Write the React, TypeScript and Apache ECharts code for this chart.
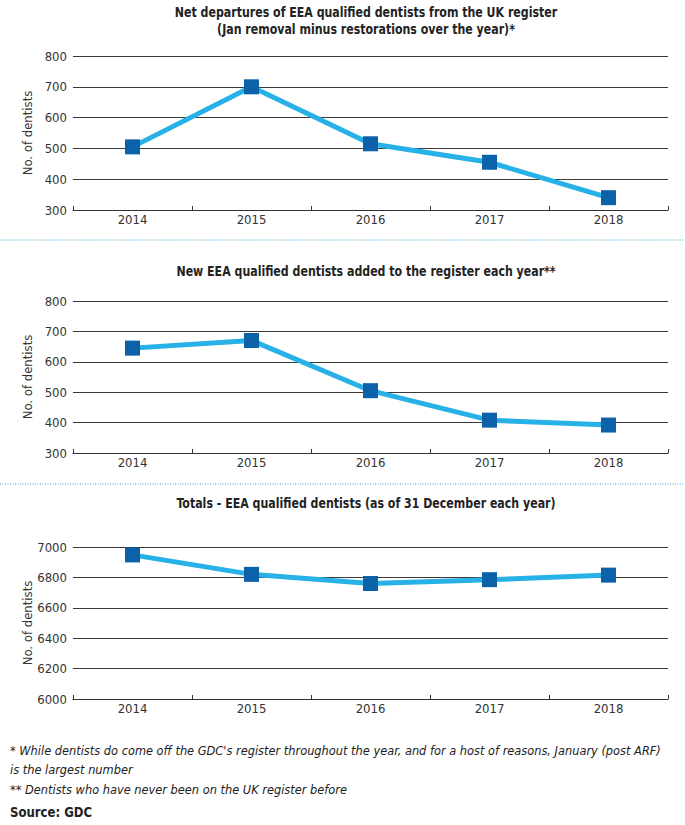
import React, { useEffect, useRef } from "react";
import * as echarts from "echarts";

const years = ["2014", "2015", "2016", "2017", "2018"];
const netDepartures = [505, 700, 515, 455, 340];
const newAdded = [645, 670, 505, 408, 392];
const totals = [6948, 6820, 6760, 6785, 6815];

const titles = [
  "Net departures of EEA qualified dentists from the UK register",
  "(Jan removal minus restorations over the year)*",
  "New EEA qualified dentists added to the register each year**",
  "Totals - EEA qualified dentists (as of 31 December each year)",
];
const footnotes = [
  "* While dentists do come off the GDC's register throughout the year, and for a host of reasons, January (post ARF)",
  "is the largest number",
  "** Dentists who have never been on the UK register before",
];
const sourceText = "Source: GDC";
const yName = "No. of dentists";

const FONT = "'DejaVu Sans Condensed', 'Liberation Sans Narrow', sans-serif";

export default function App() {
  const ref = useRef<HTMLDivElement>(null);
  useEffect(() => {
    document.body.style.margin = "0";
    if (!ref.current) return;
    const chart = echarts.init(ref.current, undefined, { renderer: "svg" });
    const grids = [
      { left: 73, right: 17, top: 56, height: 154 },
      { left: 73, right: 17, top: 301, height: 152 },
      { left: 73, right: 17, top: 547, height: 152 },
    ];
    const yRanges = [
      { min: 300, max: 800, interval: 100 },
      { min: 300, max: 800, interval: 100 },
      { min: 6000, max: 7000, interval: 200 },
    ];
    const dataSets = [netDepartures, newAdded, totals];
    const titleText = (text: string, y: number) => ({
      type: "text",
      x: 366,
      y,
      scaleX: 0.875,
      style: {
        text,
        fontFamily: FONT,
        fontSize: 14,
        fontWeight: "bold",
        fill: "#222",
        textAlign: "center",
        textVerticalAlign: "middle",
      },
    });
    const footText = (text: string, y: number, bold = false) => ({
      type: "text",
      x: 10,
      y,
      scaleX: bold ? 0.93 : 0.975,
      style: {
        text,
        fontFamily: FONT,
        fontSize: bold ? 14 : 13,
        fontStyle: bold ? "normal" : "italic",
        fontWeight: bold ? "bold" : "normal",
        fill: "#222",
        textAlign: "left",
        textVerticalAlign: "middle",
      },
    });
    const sep = (y: number) => ({
      type: "line",
      shape: { x1: 0, y1: y, x2: 685, y2: y },
      style: { stroke: "#3ea6d6", lineWidth: 1, lineDash: [1, 1.5] },
    });
    chart.setOption({
      animation: false,
      backgroundColor: "#fff",
      textStyle: { fontFamily: FONT },
      grid: grids,
      xAxis: grids.map((_, i) => ({
        type: "category",
        gridIndex: i,
        data: years,
        boundaryGap: true,
        axisLine: { lineStyle: { color: "#333", width: 1 } },
        axisTick: { show: true, inside: true, length: 4, lineStyle: { color: "#333" } },
        axisLabel: { color: "#333", fontSize: 13, margin: 3, fontFamily: FONT },
      })),
      yAxis: grids.map((_, i) => ({
        type: "value",
        gridIndex: i,
        ...yRanges[i],
        name: yName,
        nameLocation: "middle",
        nameGap: 39,
        nameMoveOverlap: false,
        nameTextStyle: { color: "#333", fontSize: 13, fontFamily: FONT },
        axisLine: { show: false },
        axisTick: { show: false },
        axisLabel: {
          color: "#333",
          fontSize: 13,
          margin: 6,
          fontFamily: FONT,
          formatter: (v: number) => String(v),
        },
        splitLine: { show: true, lineStyle: { color: "#3a3a3a", width: 1 } },
      })),
      series: dataSets.map((d, i) => ({
        type: "line",
        xAxisIndex: i,
        yAxisIndex: i,
        data: d,
        symbol: "rect",
        symbolSize: 15,
        itemStyle: { color: "#0b62a8" },
        lineStyle: { color: "#27b1e6", width: 5 },
        z: 3,
      })),
      graphic: [
        titleText(titles[0], 12),
        titleText(titles[1], 29),
        titleText(titles[2], 271),
        titleText(titles[3], 503),
        sep(240),
        sep(484),
        footText(footnotes[0], 750),
        footText(footnotes[1], 769),
        footText(footnotes[2], 789),
        footText(sourceText, 812, true),
      ],
    });
    return () => chart.dispose();
  }, []);
  return <div ref={ref} style={{ width: 685, height: 825 }} />;
}
